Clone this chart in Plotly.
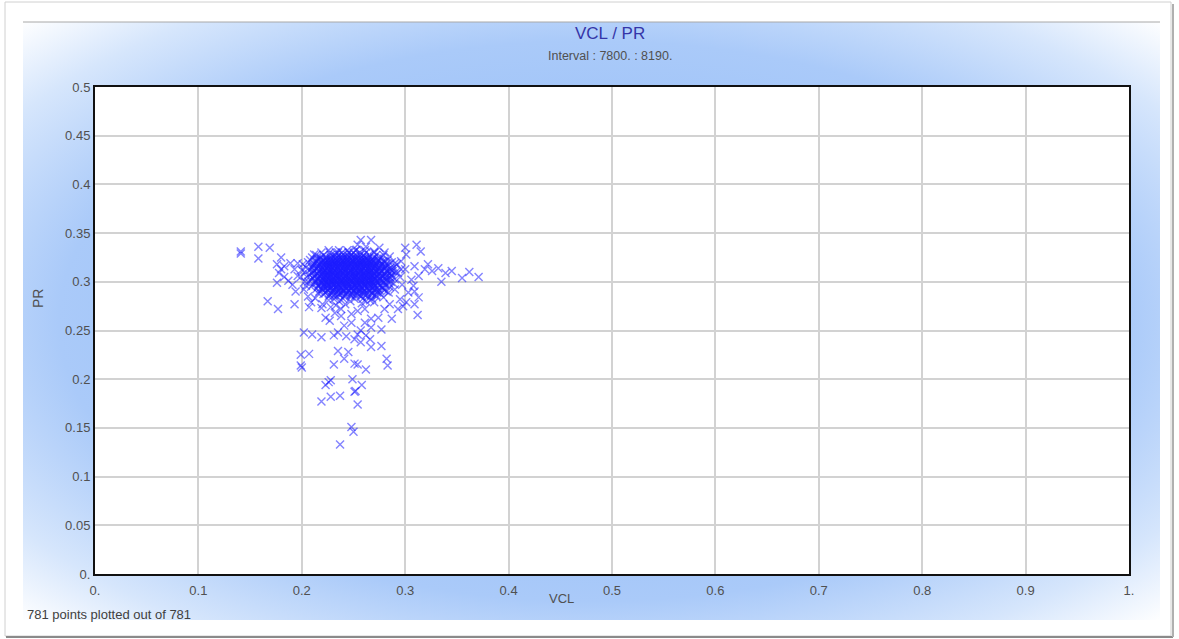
import base64
import plotly.graph_objects as go

# ---- scattered points around the main cluster (VCL, PR) ----
outer_vcl = [
    0.141, 0.141, 0.158, 0.158, 0.169,
    0.180, 0.176, 0.183, 0.189, 0.178, 0.183, 0.176, 0.187, 0.180, 0.193, 0.196, 0.196,
    0.191, 0.194, 0.202, 0.206, 0.167, 0.177, 0.193, 0.207, 0.209, 0.219, 0.220,
    0.223, 0.227, 0.232, 0.238, 0.248, 0.254, 0.261, 0.267, 0.274, 0.261, 0.267, 0.257,
    0.254, 0.262, 0.266, 0.277, 0.235, 0.243, 0.231, 0.202, 0.210, 0.219, 0.241, 0.248,
    0.287, 0.293, 0.298, 0.309, 0.312, 0.301, 0.228, 0.238, 0.280, 0.285,
    0.199, 0.207, 0.199, 0.200, 0.235, 0.245, 0.231, 0.241, 0.251, 0.254, 0.262, 0.282,
    0.283, 0.277, 0.267, 0.257, 0.251, 0.228, 0.226, 0.223, 0.249, 0.258, 0.251, 0.252,
    0.228, 0.237, 0.219, 0.254, 0.248, 0.250, 0.237,
    0.311, 0.315, 0.300, 0.301, 0.296, 0.293, 0.297, 0.290, 0.295, 0.308, 0.306, 0.313,
    0.322, 0.326, 0.332, 0.339, 0.345, 0.335, 0.355, 0.362, 0.371, 0.319, 0.309, 0.300,
    0.303, 0.313, 0.309,
    0.257, 0.267, 0.262, 0.275, 0.280, 0.253, 0.254, 0.270, 0.246, 0.212, 0.215, 0.235,
    0.285, 0.290,
    0.200, 0.199, 0.201, 0.292, 0.295, 0.289, 0.216, 0.213, 0.284, 0.279, 0.270, 0.226,
    0.204, 0.288, 0.242, 0.258, 0.233, 0.266, 0.296, 0.203,
]
outer_pr = [
    0.331, 0.329, 0.336, 0.324, 0.335,
    0.325, 0.318, 0.316, 0.319, 0.309, 0.305, 0.299, 0.301, 0.313, 0.313, 0.319, 0.306,
    0.297, 0.290, 0.292, 0.285, 0.280, 0.272, 0.277, 0.274, 0.279, 0.273, 0.277,
    0.263, 0.260, 0.268, 0.265, 0.267, 0.270, 0.272, 0.262, 0.263, 0.258, 0.253, 0.250,
    0.246, 0.245, 0.241, 0.251, 0.248, 0.244, 0.245, 0.248, 0.246, 0.243, 0.255, 0.258,
    0.262, 0.272, 0.275, 0.277, 0.266, 0.279, 0.274, 0.272, 0.272, 0.277,
    0.225, 0.226, 0.214, 0.212, 0.229, 0.228, 0.215, 0.221, 0.216, 0.215, 0.210, 0.221,
    0.214, 0.234, 0.233, 0.238, 0.241, 0.199, 0.197, 0.194, 0.200, 0.194, 0.187, 0.188,
    0.182, 0.183, 0.177, 0.174, 0.151, 0.146, 0.133,
    0.338, 0.331, 0.335, 0.328, 0.321, 0.309, 0.297, 0.292, 0.282, 0.296, 0.302, 0.306,
    0.318, 0.311, 0.314, 0.309, 0.311, 0.300, 0.304, 0.310, 0.305, 0.313, 0.316, 0.313,
    0.289, 0.284, 0.290,
    0.343, 0.343, 0.336, 0.335, 0.330, 0.333, 0.338, 0.331, 0.330, 0.328, 0.324, 0.330,
    0.326, 0.319,
    0.312, 0.305, 0.318, 0.318, 0.305, 0.298, 0.288, 0.283, 0.289, 0.284, 0.279, 0.281,
    0.296, 0.311, 0.277, 0.278, 0.276, 0.281, 0.313, 0.300,
]

# ---- dense core of the cluster, one PR level per row ----
core_rows = [
    (0.3325, [0.226, 0.236, 0.244, 0.252, 0.261]),
    (0.3300, [0.219, 0.227, 0.233, 0.239, 0.245, 0.250, 0.256, 0.262, 0.270]),
    (0.3275, [0.214, 0.221, 0.228, 0.232, 0.236, 0.240, 0.244, 0.248, 0.252, 0.256, 0.260, 0.265, 0.272, 0.279]),
    (0.3250, [0.210, 0.218, 0.224, 0.228, 0.231, 0.234, 0.237, 0.240, 0.243, 0.246, 0.249, 0.252, 0.255, 0.258,
              0.261, 0.265, 0.270, 0.277]),
    (0.3225, [0.208, 0.215, 0.221, 0.225, 0.228, 0.231, 0.234, 0.237, 0.240, 0.243, 0.246, 0.249, 0.252, 0.255,
              0.258, 0.261, 0.264, 0.268, 0.274, 0.283]),
    (0.3200, [0.206, 0.213, 0.219, 0.223, 0.226, 0.229, 0.232, 0.235, 0.238, 0.241, 0.244, 0.247, 0.250, 0.253,
              0.256, 0.259, 0.262, 0.265, 0.268, 0.273, 0.280, 0.287]),
    (0.3175, [0.211, 0.217, 0.221, 0.224, 0.227, 0.230, 0.233, 0.236, 0.239, 0.242, 0.245, 0.248, 0.251, 0.254,
              0.257, 0.260, 0.263, 0.266, 0.269, 0.272, 0.277, 0.284]),
    (0.3150, [0.204, 0.210, 0.216, 0.220, 0.223, 0.226, 0.229, 0.232, 0.235, 0.238, 0.241, 0.244, 0.247, 0.250,
              0.253, 0.256, 0.259, 0.262, 0.265, 0.268, 0.271, 0.275, 0.281, 0.289]),
    (0.3125, [0.208, 0.214, 0.219, 0.222, 0.225, 0.228, 0.231, 0.234, 0.237, 0.240, 0.243, 0.246, 0.249, 0.252,
              0.255, 0.258, 0.261, 0.264, 0.267, 0.270, 0.274, 0.279, 0.286]),
    (0.3100, [0.203, 0.211, 0.217, 0.221, 0.224, 0.227, 0.230, 0.233, 0.236, 0.239, 0.242, 0.245, 0.248, 0.251,
              0.254, 0.257, 0.260, 0.263, 0.266, 0.269, 0.272, 0.277, 0.283, 0.291]),
    (0.3075, [0.207, 0.214, 0.219, 0.222, 0.225, 0.228, 0.231, 0.234, 0.237, 0.240, 0.243, 0.246, 0.249, 0.252,
              0.255, 0.258, 0.261, 0.264, 0.267, 0.270, 0.274, 0.280, 0.287]),
    (0.3050, [0.205, 0.212, 0.218, 0.221, 0.224, 0.227, 0.230, 0.233, 0.236, 0.239, 0.242, 0.245, 0.248, 0.251,
              0.254, 0.257, 0.260, 0.263, 0.266, 0.269, 0.273, 0.278, 0.285]),
    (0.3025, [0.209, 0.215, 0.220, 0.223, 0.226, 0.229, 0.232, 0.235, 0.238, 0.241, 0.244, 0.247, 0.250, 0.253,
              0.256, 0.259, 0.262, 0.265, 0.268, 0.271, 0.276, 0.282, 0.290]),
    (0.3000, [0.206, 0.213, 0.219, 0.223, 0.226, 0.229, 0.232, 0.235, 0.238, 0.241, 0.244, 0.247, 0.250, 0.253,
              0.256, 0.259, 0.262, 0.265, 0.268, 0.272, 0.279, 0.286]),
    (0.2975, [0.211, 0.217, 0.222, 0.226, 0.229, 0.232, 0.235, 0.238, 0.241, 0.244, 0.247, 0.250, 0.253, 0.256,
              0.259, 0.262, 0.265, 0.269, 0.274, 0.281]),
    (0.2950, [0.209, 0.216, 0.221, 0.225, 0.229, 0.233, 0.237, 0.241, 0.245, 0.249, 0.253, 0.257, 0.261, 0.265,
              0.270, 0.277, 0.285]),
    (0.2925, [0.214, 0.220, 0.226, 0.231, 0.236, 0.240, 0.244, 0.248, 0.252, 0.256, 0.260, 0.265, 0.271, 0.279]),
    (0.2900, [0.217, 0.224, 0.230, 0.235, 0.240, 0.245, 0.250, 0.255, 0.260, 0.266, 0.273, 0.282]),
    (0.2875, [0.221, 0.229, 0.236, 0.243, 0.249, 0.254, 0.260, 0.268, 0.276]),
    (0.2850, [0.226, 0.234, 0.241, 0.248, 0.257, 0.264, 0.272]),
    (0.2825, [0.231, 0.240, 0.251, 0.259, 0.268]),
    (0.2800, [0.236, 0.247, 0.262]),
    # in-between levels where the cluster is thickest
    (0.32375, [0.218, 0.223, 0.228, 0.233, 0.238, 0.243, 0.248, 0.253, 0.258, 0.263, 0.268, 0.273]),
    (0.32125, [0.214, 0.219, 0.224, 0.229, 0.234, 0.239, 0.244, 0.249, 0.254, 0.259, 0.264, 0.269, 0.274, 0.279]),
    (0.31875, [0.212, 0.217, 0.222, 0.227, 0.232, 0.237, 0.242, 0.247, 0.252, 0.257, 0.262, 0.267, 0.272, 0.277,
               0.282]),
    (0.31625, [0.211, 0.216, 0.221, 0.226, 0.231, 0.236, 0.241, 0.246, 0.251, 0.256, 0.261, 0.266, 0.271, 0.276,
               0.281]),
    (0.31375, [0.210, 0.215, 0.220, 0.225, 0.230, 0.235, 0.240, 0.245, 0.250, 0.255, 0.260, 0.265, 0.270, 0.275,
               0.280, 0.285]),
    (0.31125, [0.212, 0.217, 0.222, 0.227, 0.232, 0.237, 0.242, 0.247, 0.252, 0.257, 0.262, 0.267, 0.272, 0.277,
               0.282, 0.287]),
    (0.30875, [0.210, 0.215, 0.220, 0.225, 0.230, 0.235, 0.240, 0.245, 0.250, 0.255, 0.260, 0.265, 0.270, 0.275,
               0.280, 0.285]),
    (0.30625, [0.212, 0.217, 0.222, 0.227, 0.232, 0.237, 0.242, 0.247, 0.252, 0.257, 0.262, 0.267, 0.272, 0.277,
               0.282, 0.287]),
    (0.30375, [0.211, 0.216, 0.221, 0.226, 0.231, 0.236, 0.241, 0.246, 0.251, 0.256, 0.261, 0.266, 0.271, 0.276,
               0.281, 0.286]),
    (0.30125, [0.213, 0.218, 0.223, 0.228, 0.233, 0.238, 0.243, 0.248, 0.253, 0.258, 0.263, 0.268, 0.273, 0.278,
               0.283]),
    (0.29875, [0.214, 0.219, 0.224, 0.229, 0.234, 0.239, 0.244, 0.249, 0.254, 0.259, 0.264, 0.269, 0.274, 0.279,
               0.284]),
    (0.29625, [0.216, 0.221, 0.226, 0.231, 0.236, 0.241, 0.246, 0.251, 0.256, 0.261, 0.266, 0.271, 0.276, 0.281]),
    (0.29375, [0.218, 0.223, 0.228, 0.233, 0.238, 0.243, 0.248, 0.253, 0.258, 0.263, 0.268, 0.273, 0.278]),
    (0.29125, [0.220, 0.225, 0.230, 0.235, 0.240, 0.245, 0.250, 0.255, 0.260, 0.265, 0.270, 0.275, 0.280]),
    (0.28875, [0.223, 0.228, 0.233, 0.238, 0.243, 0.248, 0.253, 0.258, 0.263, 0.268, 0.273]),
    (0.28625, [0.227, 0.232, 0.237, 0.242, 0.247, 0.252, 0.257, 0.262, 0.267, 0.272]),
    (0.3210, [0.222, 0.231, 0.240, 0.249, 0.258, 0.267, 0.276]),
    (0.3160, [0.226, 0.235, 0.244, 0.253, 0.262, 0.271, 0.280]),
    (0.3110, [0.220, 0.229, 0.238, 0.247, 0.256, 0.265, 0.274]),
    (0.3060, [0.224, 0.233, 0.242, 0.251, 0.260, 0.269, 0.278]),
    (0.3010, [0.221, 0.230, 0.239, 0.248, 0.257, 0.266, 0.275]),
    (0.2960, [0.225, 0.234, 0.243, 0.252, 0.261, 0.270]),
]

x_ticks = [0.0, 0.1, 0.2, 0.3, 0.4, 0.5, 0.6, 0.7, 0.8, 0.9, 1.0]
x_tick_text = ["0.", "0.1", "0.2", "0.3", "0.4", "0.5", "0.6", "0.7", "0.8", "0.9", "1."]
y_ticks = [0.0, 0.05, 0.1, 0.15, 0.2, 0.25, 0.3, 0.35, 0.4, 0.45, 0.5]
y_tick_text = ["0.", "0.05", "0.1", "0.15", "0.2", "0.25", "0.3", "0.35", "0.4", "0.45", "0.5"]

vcl = list(outer_vcl)
pr = list(outer_pr)
for level, xs in core_rows:
    vcl.extend(xs)
    pr.extend([level] * len(xs))

W, H = 1179, 639
L, R, T, B = 95, 1129, 87, 574  # plot-area edges in pixels


def px(x):
    return (x - L) / (R - L)


def py(y):
    return (B - y) / (B - T)


# soft blue panel framing the plot area (the plot area itself stays white)
PX0, PY0, PX1, PY1 = 23, 22, 1160, 620
pw, ph = PX1 - PX0, PY1 - PY0
svg = (
    f'<svg xmlns="http://www.w3.org/2000/svg" width="{pw}" height="{ph}" '
    f'viewBox="0 0 {pw} {ph}" preserveAspectRatio="none">'
    '<defs><radialGradient id="g" cx="50%" cy="50%" r="71%">'
    '<stop offset="0" stop-color="#8ab6f6"/>'
    '<stop offset="0.66" stop-color="#aacaf9"/>'
    '<stop offset="0.86" stop-color="#d6e6fc"/>'
    '<stop offset="1" stop-color="#ffffff"/>'
    '</radialGradient></defs>'
    f'<rect width="{pw}" height="{ph}" fill="url(#g)"/>'
    f'<rect x="{L - PX0}" y="{T - PY0}" width="{R - L}" height="{B - T}" fill="#ffffff"/>'
    '</svg>'
)
svg_uri = "data:image/svg+xml;base64," + base64.b64encode(svg.encode()).decode()

mark_color = "rgba(30,30,255,0.55)"
fig = go.Figure(
    go.Scatter(
        x=vcl, y=pr, mode="markers",
        marker=dict(symbol="x-thin", size=8, color=mark_color,
                    line=dict(width=1.4, color=mark_color)),
        hoverinfo="x+y",
    )
)

tick_font = dict(family="Liberation Sans, Arial, sans-serif", size=13, color="#505050")
axis_common = dict(
    showgrid=True, gridcolor="#d2d2d2", gridwidth=1.5, zeroline=False,
    showline=True, linecolor="#111111", linewidth=2, mirror=True,
    ticks="", tickfont=tick_font, fixedrange=True,
)

fig.update_layout(
    width=W, height=H,
    margin=dict(l=L, r=W - R, t=T, b=H - B, pad=0),
    paper_bgcolor="white", plot_bgcolor="white",
    showlegend=False,
    font=dict(family="Liberation Sans, Arial, sans-serif"),
    xaxis=dict(range=[0, 1], tickvals=x_ticks, ticktext=x_tick_text, ticklabelstandoff=3, **axis_common),
    yaxis=dict(range=[0, 0.5], tickvals=y_ticks, ticktext=y_tick_text, **axis_common),
    images=[dict(
        source=svg_uri, xref="paper", yref="paper",
        x=px(PX0), y=py(PY0), sizex=px(PX1) - px(PX0), sizey=py(PY0) - py(PY1),
        xanchor="left", yanchor="top", sizing="stretch", layer="below",
    )],
    shapes=[
        # outer frame and its shadow
        dict(type="rect", xref="paper", yref="paper", x0=px(5), x1=px(1171), y0=py(636), y1=py(2),
             line=dict(color="#d0d0d0", width=1), layer="below"),
        dict(type="line", xref="paper", yref="paper", x0=px(6), x1=px(1173), y0=py(637), y1=py(637),
             line=dict(color="#8a8a8a", width=2), layer="below"),
        dict(type="line", xref="paper", yref="paper", x0=px(1173), x1=px(1173), y0=py(637), y1=py(4),
             line=dict(color="#b0b0b0", width=2), layer="below"),
        # rule above the panel
        dict(type="line", xref="paper", yref="paper", x0=px(PX0), x1=px(PX1), y0=py(PY0), y1=py(PY0),
             line=dict(color="#a8a8a8", width=1), layer="below"),
    ],
    annotations=[
        dict(text="VCL / PR", xref="paper", yref="paper", x=px(610), y=py(33),
             showarrow=False, xanchor="center", yanchor="middle",
             font=dict(size=17, color="#3535a8")),
        dict(text="Interval : 7800. : 8190.", xref="paper", yref="paper", x=px(610), y=py(56),
             showarrow=False, xanchor="center", yanchor="middle",
             font=dict(size=12.5, color="#505050")),
        dict(text="VCL", xref="paper", yref="paper", x=px(561), y=py(598),
             showarrow=False, xanchor="center", yanchor="middle",
             font=dict(size=13, color="#505050")),
        dict(text="PR", xref="paper", yref="paper", x=px(38), y=py(299), textangle=-90,
             showarrow=False, xanchor="center", yanchor="middle",
             font=dict(size=14, color="#505050")),
        dict(text=f"{len(vcl)} points plotted out of {len(vcl)}", xref="paper", yref="paper",
             x=px(25), y=py(614), showarrow=False, xanchor="left", yanchor="middle",
             font=dict(size=13, color="#404040")),
    ],
)

fig.write_html("out.html")
